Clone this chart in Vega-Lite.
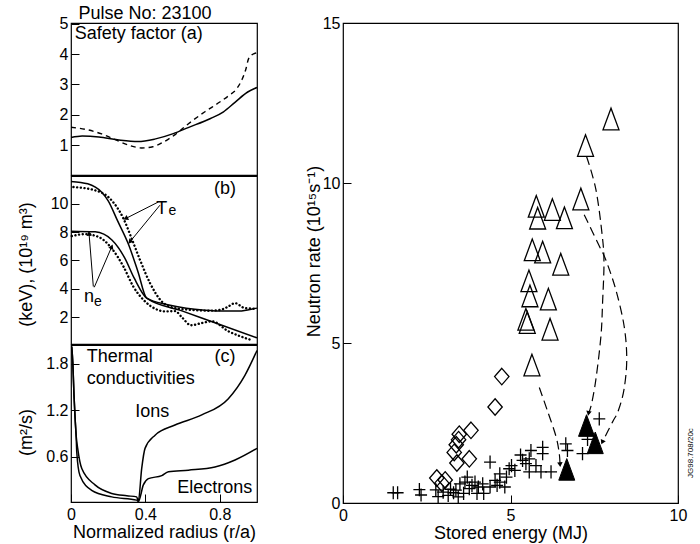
{
  "$schema": "https://vega.github.io/schema/vega-lite/v6.json",
  "background": "white",
  "padding": {"left": 16, "top": 4, "right": 2, "bottom": 2},
  "config": {
    "font": "Liberation Sans",
    "view": {"stroke": "black", "strokeWidth": 1.2},
    "axis": {"domain": false, "grid": false, "labelFont": "Liberation Sans", "labelFontSize": 16, "labelColor": "black", "tickColor": "black", "tickSize": -8, "tickWidth": 1, "labelPadding": 11, "labelFlush": false, "labelOverlap": false, "titleFont": "Liberation Sans", "titleFontSize": 18, "titleFontWeight": "normal", "titleColor": "black"},
    "axisX": {"labelPadding": 12, "titlePadding": 1},
    "text": {"font": "Liberation Sans", "fontSize": 18, "color": "black"}
  },
  "datasets": {
    "q": [
      {"r": 0, "q": 1.25, "s": "solid"}, {"r": 0.06, "q": 1.3, "s": "solid"}, {"r": 0.15, "q": 1.27, "s": "solid"}, {"r": 0.25, "q": 1.18, "s": "solid"}, {"r": 0.36, "q": 1.12, "s": "solid"}, {"r": 0.45, "q": 1.2, "s": "solid"}, {"r": 0.55, "q": 1.38, "s": "solid"}, {"r": 0.63, "q": 1.58, "s": "solid"}, {"r": 0.75, "q": 1.88, "s": "solid"}, {"r": 0.82, "q": 2.1, "s": "solid"}, {"r": 0.88, "q": 2.4, "s": "solid"}, {"r": 0.95, "q": 2.75, "s": "solid"}, {"r": 1.0, "q": 2.9, "s": "solid"},
      {"r": 0, "q": 1.59, "s": "dashed"}, {"r": 0.08, "q": 1.52, "s": "dashed"}, {"r": 0.165, "q": 1.37, "s": "dashed"}, {"r": 0.25, "q": 1.15, "s": "dashed"}, {"r": 0.32, "q": 0.98, "s": "dashed"}, {"r": 0.38, "q": 0.91, "s": "dashed"}, {"r": 0.44, "q": 0.95, "s": "dashed"}, {"r": 0.49, "q": 1.08, "s": "dashed"}, {"r": 0.56, "q": 1.35, "s": "dashed"}, {"r": 0.63, "q": 1.7, "s": "dashed"}, {"r": 0.72, "q": 2.1, "s": "dashed"}, {"r": 0.8, "q": 2.42, "s": "dashed"}, {"r": 0.85, "q": 2.64, "s": "dashed"}, {"r": 0.89, "q": 2.85, "s": "dashed"}, {"r": 0.92, "q": 3.17, "s": "dashed"}, {"r": 0.94, "q": 3.5, "s": "dashed"}, {"r": 0.955, "q": 3.85, "s": "dashed"}, {"r": 0.98, "q": 4.0, "s": "dashed"}, {"r": 1.0, "q": 4.04, "s": "dashed"}
    ],
    "prof": [
      {"r": 0, "v": 11.57, "s": "Te", "k": "solid"}, {"r": 0.09, "v": 11.4, "s": "Te", "k": "solid"}, {"r": 0.165, "v": 10.8, "s": "Te", "k": "solid"}, {"r": 0.2, "v": 10.2, "s": "Te", "k": "solid"}, {"r": 0.25, "v": 8.8, "s": "Te", "k": "solid"}, {"r": 0.31, "v": 7.1, "s": "Te", "k": "solid"}, {"r": 0.36, "v": 5.2, "s": "Te", "k": "solid"}, {"r": 0.407, "v": 3.33, "s": "Te", "k": "solid"}, {"r": 0.52, "v": 2.87, "s": "Te", "k": "solid"}, {"r": 0.62, "v": 2.62, "s": "Te", "k": "solid"}, {"r": 0.72, "v": 2.48, "s": "Te", "k": "solid"}, {"r": 0.82, "v": 2.42, "s": "Te", "k": "solid"}, {"r": 0.9, "v": 2.42, "s": "Te", "k": "solid"}, {"r": 0.95, "v": 2.5, "s": "Te", "k": "solid"}, {"r": 1.0, "v": 2.63, "s": "Te", "k": "solid"},
      {"r": 0, "v": 8.06, "s": "ne", "k": "solid"}, {"r": 0.13, "v": 8.01, "s": "ne", "k": "solid"}, {"r": 0.22, "v": 7.43, "s": "ne", "k": "solid"}, {"r": 0.29, "v": 6.14, "s": "ne", "k": "solid"}, {"r": 0.34, "v": 4.74, "s": "ne", "k": "solid"}, {"r": 0.407, "v": 3.33, "s": "ne", "k": "solid"}, {"r": 0.6, "v": 2.42, "s": "ne", "k": "solid"}, {"r": 0.8, "v": 1.47, "s": "ne", "k": "solid"}, {"r": 1.0, "v": 0.53, "s": "ne", "k": "solid"},
      {"r": 0.013, "v": 11.17, "s": "Te", "k": "dot"}, {"r": 0.129, "v": 10.94, "s": "Te", "k": "dot"}, {"r": 0.2, "v": 10.47, "s": "Te", "k": "dot"}, {"r": 0.246, "v": 9.77, "s": "Te", "k": "dot"}, {"r": 0.282, "v": 8.95, "s": "Te", "k": "dot"}, {"r": 0.326, "v": 7.54, "s": "Te", "k": "dot"}, {"r": 0.371, "v": 6.03, "s": "Te", "k": "dot"}, {"r": 0.425, "v": 4.39, "s": "Te", "k": "dot"}, {"r": 0.488, "v": 3.1, "s": "Te", "k": "dot"}, {"r": 0.559, "v": 2.63, "s": "Te", "k": "dot"}, {"r": 0.631, "v": 2.52, "s": "Te", "k": "dot"}, {"r": 0.739, "v": 2.45, "s": "Te", "k": "dot"}, {"r": 0.8, "v": 2.5, "s": "Te", "k": "dot"}, {"r": 0.84, "v": 2.7, "s": "Te", "k": "dot"}, {"r": 0.882, "v": 2.98, "s": "Te", "k": "dot"}, {"r": 0.935, "v": 2.63, "s": "Te", "k": "dot"}, {"r": 1.0, "v": 2.58, "s": "Te", "k": "dot"},
      {"r": 0.004, "v": 7.71, "s": "ne", "k": "dot"}, {"r": 0.075, "v": 7.85, "s": "ne", "k": "dot"}, {"r": 0.147, "v": 7.66, "s": "ne", "k": "dot"}, {"r": 0.219, "v": 6.84, "s": "ne", "k": "dot"}, {"r": 0.282, "v": 5.56, "s": "ne", "k": "dot"}, {"r": 0.335, "v": 4.15, "s": "ne", "k": "dot"}, {"r": 0.389, "v": 3.22, "s": "ne", "k": "dot"}, {"r": 0.452, "v": 2.59, "s": "ne", "k": "dot"}, {"r": 0.505, "v": 2.4, "s": "ne", "k": "dot"}, {"r": 0.559, "v": 2.42, "s": "ne", "k": "dot"}, {"r": 0.6, "v": 1.93, "s": "ne", "k": "dot"}, {"r": 0.645, "v": 1.42, "s": "ne", "k": "dot"}, {"r": 0.703, "v": 1.58, "s": "ne", "k": "dot"}, {"r": 0.757, "v": 1.7, "s": "ne", "k": "dot"}, {"r": 0.846, "v": 1.0, "s": "ne", "k": "dot"}, {"r": 0.935, "v": 0.53, "s": "ne", "k": "dot"}, {"r": 0.962, "v": 0.41, "s": "ne", "k": "dot"}
    ],
    "barrows": [
      {"id": "te1", "r1": 0.47, "v1": 10.12, "r2": 0.294, "v2": 8.95},
      {"id": "te2", "r1": 0.478, "v1": 9.89, "r2": 0.317, "v2": 7.31},
      {"id": "ne1", "r1": 0.12, "v1": 4.15, "r2": 0.097, "v2": 7.9},
      {"id": "ne2", "r1": 0.125, "v1": 4.1, "r2": 0.219, "v2": 6.96}
    ],
    "chi": [
      {"r": 0.004, "c": 2.02, "s": "ions"}, {"r": 0.01, "c": 1.8, "s": "ions"}, {"r": 0.016, "c": 1.4, "s": "ions"}, {"r": 0.022, "c": 1.1, "s": "ions"}, {"r": 0.028, "c": 0.87, "s": "ions"}, {"r": 0.036, "c": 0.71, "s": "ions"}, {"r": 0.058, "c": 0.45, "s": "ions"}, {"r": 0.129, "c": 0.24, "s": "ions"}, {"r": 0.219, "c": 0.13, "s": "ions"}, {"r": 0.3, "c": 0.1, "s": "ions"}, {"r": 0.353, "c": 0.086, "s": "ions"}, {"r": 0.362, "c": 0.03, "s": "ions"}, {"r": 0.38, "c": 0.45, "s": "ions"}, {"r": 0.398, "c": 0.71, "s": "ions"}, {"r": 0.452, "c": 0.88, "s": "ions"}, {"r": 0.559, "c": 1.01, "s": "ions"}, {"r": 0.703, "c": 1.14, "s": "ions"}, {"r": 0.846, "c": 1.35, "s": "ions"}, {"r": 0.935, "c": 1.65, "s": "ions"}, {"r": 1.0, "c": 1.97, "s": "ions"},
      {"r": 0.004, "c": 2.02, "s": "el"}, {"r": 0.01, "c": 1.8, "s": "el"}, {"r": 0.016, "c": 1.4, "s": "el"}, {"r": 0.022, "c": 1.1, "s": "el"}, {"r": 0.028, "c": 0.85, "s": "el"}, {"r": 0.031, "c": 0.66, "s": "el"}, {"r": 0.048, "c": 0.36, "s": "el"}, {"r": 0.111, "c": 0.17, "s": "el"}, {"r": 0.219, "c": 0.086, "s": "el"}, {"r": 0.353, "c": 0.044, "s": "el"}, {"r": 0.362, "c": 0.025, "s": "el"}, {"r": 0.389, "c": 0.24, "s": "el"}, {"r": 0.416, "c": 0.32, "s": "el"}, {"r": 0.488, "c": 0.36, "s": "el"}, {"r": 0.524, "c": 0.41, "s": "el"}, {"r": 0.631, "c": 0.43, "s": "el"}, {"r": 0.774, "c": 0.47, "s": "el"}, {"r": 0.882, "c": 0.56, "s": "el"}, {"r": 1.0, "c": 0.71, "s": "el"}
    ],
    "open": [
      {"E": 8.0, "N": 12.0}, {"E": 7.24, "N": 11.17}, {"E": 7.1, "N": 9.5}, {"E": 5.77, "N": 9.27}, {"E": 5.81, "N": 8.9}, {"E": 6.25, "N": 9.17}, {"E": 6.61, "N": 8.91}, {"E": 5.65, "N": 7.91}, {"E": 5.96, "N": 7.84}, {"E": 6.5, "N": 7.46}, {"E": 5.55, "N": 6.94}, {"E": 5.58, "N": 6.47}, {"E": 6.13, "N": 6.37}, {"E": 5.46, "N": 5.74}, {"E": 5.5, "N": 5.64}, {"E": 6.18, "N": 5.43}, {"E": 5.64, "N": 4.31}
    ],
    "filledTri": [
      {"E": 7.27, "N": 2.42}, {"E": 7.53, "N": 1.88}, {"E": 6.68, "N": 1.05}
    ],
    "diam": [
      {"E": 4.74, "N": 3.95}, {"E": 4.54, "N": 3.0}, {"E": 3.82, "N": 2.27}, {"E": 3.47, "N": 2.15}, {"E": 3.45, "N": 1.98}, {"E": 3.38, "N": 1.82}, {"E": 3.32, "N": 1.58}, {"E": 3.4, "N": 1.25}, {"E": 3.77, "N": 1.38}, {"E": 2.8, "N": 0.78}, {"E": 3.05, "N": 0.72}, {"E": 2.95, "N": 0.62}
    ],
    "plus": [
      {"E": 1.5, "N": 0.32}, {"E": 1.63, "N": 0.32}, {"E": 2.28, "N": 0.42}, {"E": 2.33, "N": 0.25}, {"E": 2.77, "N": 0.41}, {"E": 2.84, "N": 0.2}, {"E": 2.99, "N": 0.34}, {"E": 3.14, "N": 0.24}, {"E": 3.21, "N": 0.43}, {"E": 3.37, "N": 0.4}, {"E": 3.44, "N": 0.19}, {"E": 3.49, "N": 0.6}, {"E": 3.64, "N": 0.65}, {"E": 3.71, "N": 0.81}, {"E": 3.77, "N": 0.45}, {"E": 3.94, "N": 0.65}, {"E": 4.04, "N": 0.5}, {"E": 4.17, "N": 0.6}, {"E": 4.39, "N": 1.28}, {"E": 4.39, "N": 0.5}, {"E": 4.54, "N": 0.71}, {"E": 4.68, "N": 0.65}, {"E": 4.83, "N": 0.5}, {"E": 4.88, "N": 0.81}, {"E": 4.68, "N": 0.91}, {"E": 4.96, "N": 1.07}, {"E": 5.03, "N": 1.17}, {"E": 5.13, "N": 1.02}, {"E": 5.3, "N": 1.5}, {"E": 5.36, "N": 1.33}, {"E": 5.46, "N": 1.23}, {"E": 5.56, "N": 0.97}, {"E": 5.56, "N": 1.38}, {"E": 5.61, "N": 1.64}, {"E": 5.76, "N": 1.17}, {"E": 5.91, "N": 0.97}, {"E": 5.96, "N": 1.74}, {"E": 5.96, "N": 1.54}, {"E": 6.21, "N": 0.97}, {"E": 6.65, "N": 1.85}, {"E": 6.7, "N": 1.64}, {"E": 7.15, "N": 1.54}, {"E": 7.3, "N": 1.99}, {"E": 7.65, "N": 2.63}, {"E": 4.2, "N": 0.3}, {"E": 4.0, "N": 0.3}, {"E": 3.6, "N": 0.3}, {"E": 3.3, "N": 0.32}, {"E": 4.6, "N": 0.55}, {"E": 3.85, "N": 0.55}
    ],
    "paths": [
      {"a": "A", "i": 1, "E": 5.86, "N": 3.61}, {"a": "A", "i": 2, "E": 6.1, "N": 2.89}, {"a": "A", "i": 3, "E": 6.35, "N": 2.11}, {"a": "A", "i": 4, "E": 6.45, "N": 1.59}, {"a": "A", "i": 5, "E": 6.48, "N": 1.2},
      {"a": "B", "i": 1, "E": 7.27, "N": 10.83}, {"a": "B", "i": 2, "E": 7.55, "N": 9.79}, {"a": "B", "i": 3, "E": 7.74, "N": 8.34}, {"a": "B", "i": 4, "E": 7.79, "N": 7.5}, {"a": "B", "i": 5, "E": 7.75, "N": 6.3}, {"a": "B", "i": 6, "E": 7.7, "N": 5.22}, {"a": "B", "i": 7, "E": 7.55, "N": 3.87}, {"a": "B", "i": 8, "E": 7.42, "N": 3.1}, {"a": "B", "i": 9, "E": 7.33, "N": 2.8},
      {"a": "C", "i": 1, "E": 7.2, "N": 9.01}, {"a": "C", "i": 2, "E": 7.65, "N": 8.03}, {"a": "C", "i": 3, "E": 7.84, "N": 7.61}, {"a": "C", "i": 4, "E": 8.14, "N": 6.68}, {"a": "C", "i": 5, "E": 8.39, "N": 5.54}, {"a": "C", "i": 6, "E": 8.47, "N": 4.5}, {"a": "C", "i": 7, "E": 8.39, "N": 3.56}, {"a": "C", "i": 8, "E": 8.22, "N": 2.89}, {"a": "C", "i": 9, "E": 8.04, "N": 2.52}, {"a": "C", "i": 10, "E": 7.74, "N": 1.9}
    ],
    "heads": [
      {"a": "A", "E": 6.48, "N": 1.2}, {"a": "B", "E": 7.33, "N": 2.8}, {"a": "C", "E": 7.74, "N": 1.9}
    ],
    "bheads": [
      {"id": "te1", "r": 0.294, "v": 8.95}, {"id": "te2", "r": 0.317, "v": 7.31}, {"id": "ne1", "r": 0.097, "v": 7.9}, {"id": "ne2", "r": 0.219, "v": 6.96}
    ]
  },
  "spacing": 41,
  "hconcat": [
    {
      "bounds": "flush",
      "spacing": 1,
      "vconcat": [
        {
          "width": 186, "height": 152,
          "encoding": {
            "x": {"field": "r", "type": "quantitative", "scale": {"domain": [0, 1], "nice": false, "zero": false}, "axis": null},
            "y": {"field": "q", "type": "quantitative", "scale": {"domain": [0.02, 5.02], "nice": false, "zero": false}, "axis": {"values": [1, 2, 3, 4, 5], "title": null, "labelOverlap": false, "labelSeparation": 0}}
          },
          "layer": [
            {"data": {"name": "q"}, "transform": [{"filter": "datum.s == 'solid'"}], "mark": {"type": "line", "interpolate": "monotone", "color": "black", "strokeWidth": 1.5}},
            {"data": {"name": "q"}, "transform": [{"filter": "datum.s == 'dashed'"}], "mark": {"type": "line", "interpolate": "monotone", "color": "black", "strokeWidth": 1.4, "strokeDash": [5, 4]}},
            {"data": {"values": [{"t": "Pulse No: 23100", "r": 0.04, "q": 5.3}, {"t": "Safety factor (a)", "r": 0.02, "q": 4.65}]}, "mark": {"type": "text", "align": "left", "baseline": "middle"},
             "encoding": {"text": {"field": "t"}}}
          ]
        },
        {
          "width": 186, "height": 168,
          "layer": [
            {"data": {"name": "prof"}, "transform": [{"filter": "datum.k == 'solid'"}], "mark": {"type": "line", "interpolate": "monotone", "color": "black", "strokeWidth": 1.5},
             "encoding": {"x": {"field": "r", "type": "quantitative", "scale": {"domain": [0, 1], "nice": false, "zero": false}, "axis": null},
                          "y": {"field": "v", "type": "quantitative", "scale": {"domain": [0.1, 11.95], "nice": false, "zero": false}, "axis": {"values": [2, 4, 6, 8, 10], "labelOverlap": false, "title": "(keV), (10¹⁹ m³)", "titleX": -36, "titleY": 88, "titleBaseline": "bottom", "titleAngle": 270, "titleAlign": "center"}},
                          "detail": {"field": "s"}}},
            {"data": {"name": "prof"}, "transform": [{"filter": "datum.k == 'dot'"}], "mark": {"type": "line", "interpolate": "monotone", "color": "black", "strokeWidth": 2.4, "strokeDash": [0.1, 3.6], "strokeCap": "round"},
             "encoding": {"x": {"field": "r", "type": "quantitative"}, "y": {"field": "v", "type": "quantitative"}, "detail": {"field": "s"}}},
            {"data": {"name": "barrows"}, "mark": {"type": "rule", "color": "black", "strokeWidth": 1},
             "encoding": {"x": {"field": "r1", "type": "quantitative"}, "y": {"field": "v1", "type": "quantitative"}, "x2": {"field": "r2"}, "y2": {"field": "v2"}}},
            {"data": {"name": "bheads"}, "transform": [{"filter": "datum.id == 'te1'"}], "mark": {"type": "point", "shape": "triangle-up", "filled": true, "color": "black", "opacity": 1, "size": 30, "angle": 243},
             "encoding": {"x": {"field": "r", "type": "quantitative"}, "y": {"field": "v", "type": "quantitative"}}},
            {"data": {"name": "bheads"}, "transform": [{"filter": "datum.id == 'te2'"}], "mark": {"type": "point", "shape": "triangle-up", "filled": true, "color": "black", "opacity": 1, "size": 30, "angle": 219},
             "encoding": {"x": {"field": "r", "type": "quantitative"}, "y": {"field": "v", "type": "quantitative"}}},
            {"data": {"name": "bheads"}, "transform": [{"filter": "datum.id == 'ne1'"}], "mark": {"type": "point", "shape": "triangle-up", "filled": true, "color": "black", "opacity": 1, "size": 30, "angle": 355},
             "encoding": {"x": {"field": "r", "type": "quantitative"}, "y": {"field": "v", "type": "quantitative"}}},
            {"data": {"name": "bheads"}, "transform": [{"filter": "datum.id == 'ne2'"}], "mark": {"type": "point", "shape": "triangle-up", "filled": true, "color": "black", "opacity": 1, "size": 30, "angle": 23},
             "encoding": {"x": {"field": "r", "type": "quantitative"}, "y": {"field": "v", "type": "quantitative"}}},
            {"data": {"values": [{"t": "(b)", "r": 0.828, "v": 11.05}, {"t": "T", "r": 0.488, "v": 9.63}, {"t": "n", "r": 0.097, "v": 3.38}]}, "mark": {"type": "text", "align": "center", "baseline": "middle"},
             "encoding": {"x": {"field": "r", "type": "quantitative"}, "y": {"field": "v", "type": "quantitative"}, "text": {"field": "t"}}},
            {"data": {"values": [{"t": "e", "r": 0.545, "v": 9.47}, {"t": "e", "r": 0.144, "v": 3.05}]}, "mark": {"type": "text", "align": "center", "baseline": "middle", "fontSize": 14},
             "encoding": {"x": {"field": "r", "type": "quantitative"}, "y": {"field": "v", "type": "quantitative"}, "text": {"field": "t"}}}
          ]
        },
        {
          "width": 186, "height": 157,
          "layer": [
            {"data": {"name": "chi"}, "mark": {"type": "line", "interpolate": "monotone", "color": "black", "strokeWidth": 1.5},
             "encoding": {"x": {"field": "r", "type": "quantitative", "scale": {"domain": [0, 1], "nice": false, "zero": false}, "axis": {"values": [0, 0.4, 0.8], "format": "~g", "labelOverlap": false, "title": "Normalized radius (r/a)"}},
                          "y": {"field": "c", "type": "quantitative", "scale": {"domain": [0.02, 2.04], "nice": false, "zero": false}, "axis": {"values": [0.6, 1.2, 1.8], "format": "~g", "labelOverlap": false, "title": "(m²/s)", "titleX": -36, "titleY": 87, "titleBaseline": "bottom", "titleAngle": 270, "titleAlign": "center"}},
                          "detail": {"field": "s"}}},
            {"data": {"values": [{"t": "Thermal", "r": 0.085, "v": 1.886}, {"t": "conductivities", "r": 0.085, "v": 1.607}]}, "mark": {"type": "text", "align": "left", "baseline": "middle"},
             "encoding": {"x": {"field": "r", "type": "quantitative"}, "y": {"field": "v", "type": "quantitative"}, "text": {"field": "t"}}},
            {"data": {"values": [{"t": "(c)", "r": 0.828, "v": 1.886}, {"t": "Ions", "r": 0.437, "v": 1.18}, {"t": "Electrons", "r": 0.773, "v": 0.206}]}, "mark": {"type": "text", "align": "center", "baseline": "middle"},
             "encoding": {"x": {"field": "r", "type": "quantitative"}, "y": {"field": "v", "type": "quantitative"}, "text": {"field": "t"}}}
          ]
        }
      ]
    },
    {
      "width": 335, "height": 480,
      "layer": [
        {"data": {"name": "paths"}, "mark": {"type": "line", "interpolate": "cardinal", "color": "black", "strokeWidth": 1.2, "strokeDash": [9, 5]},
         "encoding": {"x": {"field": "E", "type": "quantitative", "scale": {"domain": [0, 10], "nice": false, "zero": false}, "axis": {"values": [0, 5, 10], "labelOverlap": false, "title": "Stored energy (MJ)"}},
                      "y": {"field": "N", "type": "quantitative", "scale": {"domain": [0, 15], "nice": false, "zero": false}, "axis": {"values": [0, 5, 10, 15], "labelOverlap": false, "title": "Neutron rate (10¹⁵s⁻¹)", "titleX": -20, "titleY": 228, "titleBaseline": "bottom", "titleAngle": 270, "titleAlign": "center"}},
                      "detail": {"field": "a"}, "order": {"field": "i"}}},
        {"data": {"name": "heads"}, "transform": [{"filter": "datum.a == 'A'"}], "mark": {"type": "point", "shape": "triangle-up", "filled": true, "color": "black", "opacity": 1, "size": 30, "angle": 176},
         "encoding": {"x": {"field": "E", "type": "quantitative"}, "y": {"field": "N", "type": "quantitative"}}},
        {"data": {"name": "heads"}, "transform": [{"filter": "datum.a == 'B'"}], "mark": {"type": "point", "shape": "triangle-up", "filled": true, "color": "black", "opacity": 1, "size": 30, "angle": 191},
         "encoding": {"x": {"field": "E", "type": "quantitative"}, "y": {"field": "N", "type": "quantitative"}}},
        {"data": {"name": "heads"}, "transform": [{"filter": "datum.a == 'C'"}], "mark": {"type": "point", "shape": "triangle-up", "filled": true, "color": "black", "opacity": 1, "size": 30, "angle": 205},
         "encoding": {"x": {"field": "E", "type": "quantitative"}, "y": {"field": "N", "type": "quantitative"}}},
        {"data": {"name": "plus"}, "mark": {"type": "point", "shape": "M-1,0L1,0M0,-1.1L0,1.1", "size": 144, "filled": false, "stroke": "black", "strokeWidth": 1.3, "opacity": 1},
         "encoding": {"x": {"field": "E", "type": "quantitative"}, "y": {"field": "N", "type": "quantitative"}}},
        {"data": {"name": "diam"}, "mark": {"type": "point", "shape": "M0,-1.15L1,0L0,1.15L-1,0Z", "size": 207, "filled": false, "stroke": "black", "strokeWidth": 1.3, "opacity": 1},
         "encoding": {"x": {"field": "E", "type": "quantitative"}, "y": {"field": "N", "type": "quantitative"}}},
        {"data": {"name": "open"}, "mark": {"type": "point", "shape": "M0,-1.35L-1,1.35L1,1.35Z", "size": 256, "filled": false, "stroke": "black", "strokeWidth": 1.3, "opacity": 1},
         "encoding": {"x": {"field": "E", "type": "quantitative"}, "y": {"field": "N", "type": "quantitative"}}},
        {"data": {"name": "filledTri"}, "mark": {"type": "point", "shape": "M0,-1.35L-1,1.35L1,1.35Z", "size": 256, "filled": true, "fill": "black", "stroke": "black", "strokeWidth": 1, "opacity": 1},
         "encoding": {"x": {"field": "E", "type": "quantitative"}, "y": {"field": "N", "type": "quantitative"}}},
        {"data": {"values": [{"t": "JG98.708/20c", "E": 10.38, "N": 1.56}]}, "mark": {"type": "text", "angle": 270, "align": "center", "baseline": "middle", "fontSize": 8},
         "encoding": {"x": {"field": "E", "type": "quantitative"}, "y": {"field": "N", "type": "quantitative"}, "text": {"field": "t"}}}
      ]
    }
  ]
}
